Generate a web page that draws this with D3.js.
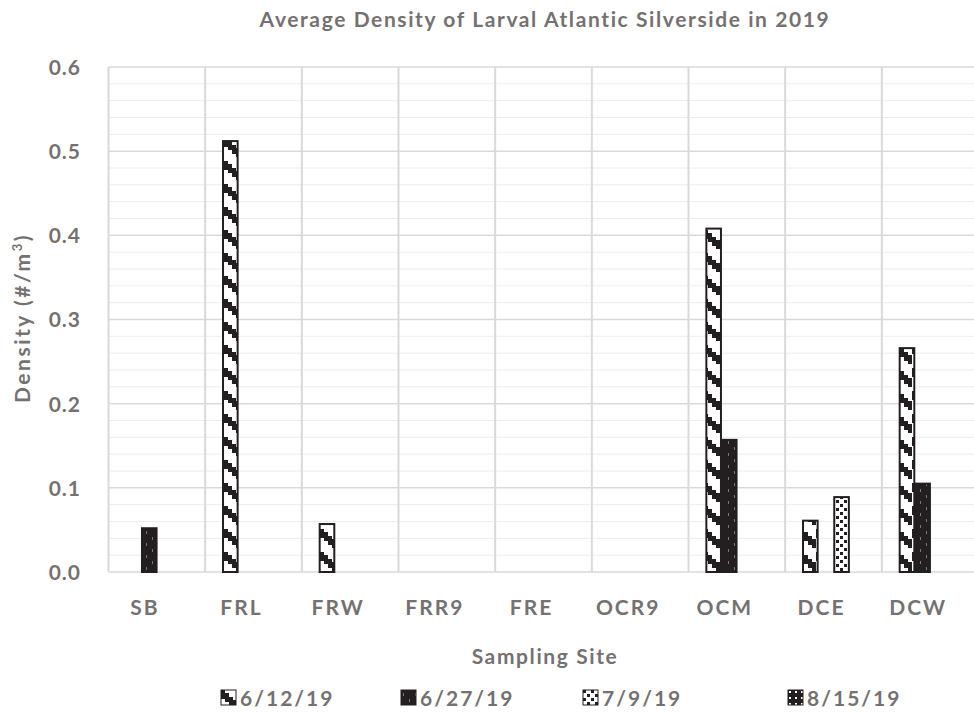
<!DOCTYPE html>
<html>
<head>
<meta charset="utf-8">
<script src="https://cdn.jsdelivr.net/npm/d3@7"></script>
<style>
  body { margin: 0; background: #fff; }
  svg { display: block; font-family: Lato, "Open Sans", sans-serif; font-weight: bold; }
</style>
</head>
<body>
<svg id="chart" width="974" height="715"></svg>
<script>
// sites along the x axis
const sites = ["SB", "FRL", "FRW", "FRR9", "FRE", "OCR9", "OCM", "DCE", "DCW"]
// sampling dates (series)
const dates = ["6/12/19", "6/27/19", "7/9/19", "8/15/19"]
// density per site, one array per date
const d0612 = [0, 0.512, 0.057, 0, 0, 0, 0.408, 0.061, 0.266]
const d0627 = [0.052, 0, 0, 0, 0, 0, 0.157, 0, 0.105]
const d0709 = [0, 0, 0, 0, 0, 0, 0, 0.089, 0]
const d0815 = [0, 0, 0, 0, 0, 0, 0, 0, 0]
const yTicks = [0, 0.1, 0.2, 0.3, 0.4, 0.5, 0.6]

const seriesValues = [d0612, d0627, d0709, d0815]
const patIds = ["p0612", "p0627", "p0709", "p0815"]

const svg = d3.select("#chart"),
      grey = "#767171",
      ink = "#231f20",
      plotLeft = 108.5,
      plotRight = 978.5,
      plotTop = 67,
      plotBottom = 572

const x = d3.scaleBand().domain(sites).range([plotLeft, plotRight])
// excel style gap: 4 bars + about 2.2 bar widths of gap
const x1 = d3.scaleBand().domain(dates).range([0, x.bandwidth()]).paddingInner(0).paddingOuter(1.095)
const y = d3.scaleLinear().domain([0, 0.6]).range([plotBottom, plotTop])

// patterns
const defs = svg.append("defs")
// 6/12: white with stepped diagonal black stripes
let p = defs.append("pattern").attr("id", "p0612").attr("patternUnits", "userSpaceOnUse")
  .attr("width", 16).attr("height", 23)
p.append("rect").attr("width", 16).attr("height", 23).attr("fill", "#fff")
p.append("path").attr("fill", ink)
  .attr("d", "M0,0 L4,0 L4,3 L8,3 L8,7 L12,7 L12,10 L16,10 L16,19 L12,19 L12,16 L8,16 L8,12 L4,12 L4,9 L0,9 Z")
// 6/27: dark with tiny light marks
p = defs.append("pattern").attr("id", "p0627").attr("patternUnits", "userSpaceOnUse")
  .attr("width", 12).attr("height", 12)
p.append("rect").attr("width", 12).attr("height", 12).attr("fill", ink)
p.append("rect").attr("x", 2).attr("y", 3).attr("width", 1).attr("height", 3).attr("fill", "#777")
p.append("rect").attr("x", 8).attr("y", 9).attr("width", 1).attr("height", 3).attr("fill", "#777")
// 7/9: white with black checker dots
p = defs.append("pattern").attr("id", "p0709").attr("patternUnits", "userSpaceOnUse")
  .attr("width", 8).attr("height", 8)
p.append("rect").attr("width", 8).attr("height", 8).attr("fill", "#fff")
p.append("rect").attr("x", 0).attr("y", 0).attr("width", 3).attr("height", 3).attr("fill", ink)
p.append("rect").attr("x", 4).attr("y", 4).attr("width", 3).attr("height", 3).attr("fill", ink)
// 8/15: dark with white dot grid
p = defs.append("pattern").attr("id", "p0815").attr("patternUnits", "userSpaceOnUse")
  .attr("width", 6).attr("height", 6)
p.append("rect").attr("width", 6).attr("height", 6).attr("fill", ink)
p.append("rect").attr("x", 1).attr("y", 1).attr("width", 2).attr("height", 2).attr("fill", "#fff")

// minor grid
const minor = d3.range(0, 0.6001, 0.02).filter(v => Math.abs(v * 10 - Math.round(v * 10)) > 1e-6)
svg.append("g").selectAll("line").data(minor).join("line")
  .attr("x1", plotLeft).attr("x2", plotRight)
  .attr("y1", d => y(d)).attr("y2", d => y(d))
  .attr("stroke", "#ececec").attr("stroke-width", 1)
// major grid
svg.append("g").selectAll("line").data(yTicks).join("line")
  .attr("x1", plotLeft).attr("x2", plotRight)
  .attr("y1", d => y(d)).attr("y2", d => y(d))
  .attr("stroke", "#d9d9d9").attr("stroke-width", 1.5)
// category separators
svg.append("g").selectAll("line").data(sites).join("line")
  .attr("x1", d => x(d)).attr("x2", d => x(d))
  .attr("y1", plotTop).attr("y2", plotBottom)
  .attr("stroke", "#d9d9d9").attr("stroke-width", 2)

// bars
const bars = []
sites.forEach((s, i) => dates.forEach((dt, j) => {
  if (seriesValues[j][i] > 0) bars.push({ site: s, date: dt, v: seriesValues[j][i], pat: patIds[j] })
}))
svg.append("g").selectAll("rect").data(bars).join("rect")
  .attr("x", d => x(d.site) + x1(d.date) + 0.75)
  .attr("width", x1.bandwidth() - 1)
  .attr("y", d => y(d.v))
  .attr("height", d => y(0) - y(d.v))
  .attr("fill", d => "url(#" + d.pat + ")")
  .attr("stroke", ink).attr("stroke-width", 2)

// y axis
const yAxis = svg.append("g").attr("transform", "translate(84,0)")
  .call(d3.axisLeft(y).tickValues(yTicks).tickFormat(d3.format(".1f")).tickSize(0))
yAxis.select(".domain").remove()
yAxis.selectAll("text").attr("fill", grey).attr("font-size", 21).attr("font-family", "Lato, sans-serif")
  .attr("font-weight", "bold").attr("dy", "0.35em").attr("letter-spacing", 1)

// x axis labels
const xAxis = svg.append("g").attr("transform", "translate(0," + 597 + ")")
  .call(d3.axisBottom(x).tickSize(0))
xAxis.select(".domain").remove()
xAxis.selectAll("text").attr("fill", grey).attr("font-size", 21).attr("font-family", "Lato, sans-serif")
  .attr("font-weight", "bold").attr("dy", "0.71em").attr("letter-spacing", 2)
  .attr("dx", -12)

// titles
svg.append("text").attr("x", 545).attr("y", 27).attr("text-anchor", "middle")
  .attr("fill", grey).attr("font-size", 21).attr("letter-spacing", 1.6)
  .text("Average Density of Larval Atlantic Silverside in 2019")
svg.append("text").attr("x", 545).attr("y", 664).attr("text-anchor", "middle")
  .attr("fill", grey).attr("font-size", 21).attr("letter-spacing", 1.6).text("Sampling Site")
svg.append("text").attr("transform", "translate(30,318) rotate(-90)").attr("text-anchor", "middle")
  .attr("fill", grey).attr("font-size", 21).attr("letter-spacing", 2.5)
  .html('Density (#/m<tspan font-size="13" dy="-8">3</tspan><tspan dy="8">)</tspan>')

// legend
const legX = [221, 401, 583, 788]
const leg = svg.append("g").selectAll("g").data(dates).join("g")
  .attr("transform", (d, i) => "translate(" + legX[i] + ",690)")
leg.append("rect").attr("width", 15).attr("height", 15)
  .attr("fill", (d, i) => "url(#" + patIds[i] + ")").attr("stroke", ink).attr("stroke-width", 1)
leg.append("text").attr("x", 19).attr("y", 15.5).attr("fill", grey).attr("font-size", 21)
  .attr("letter-spacing", 2).text(d => d)
</script>
</body>
</html>
